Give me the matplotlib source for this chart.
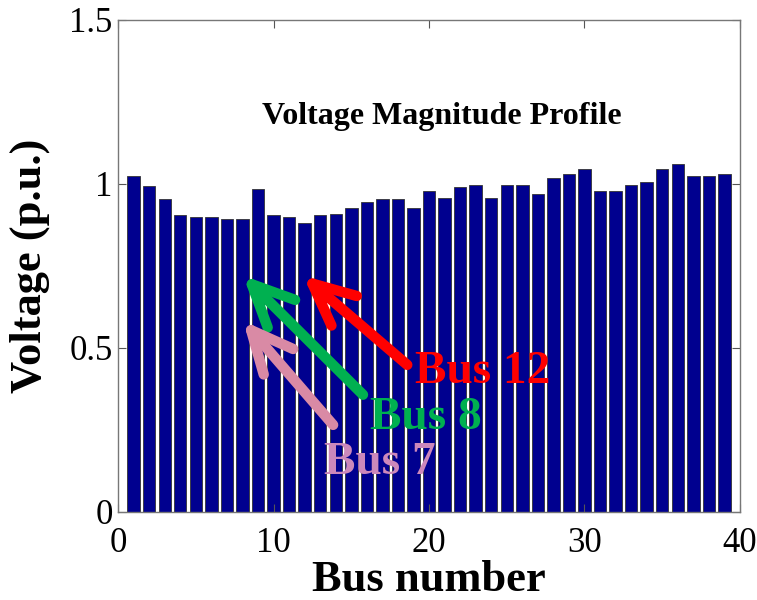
import matplotlib
matplotlib.use('Agg')
import matplotlib.pyplot as plt
import numpy as np

plt.rcParams['font.family'] = ['Liberation Serif', 'DejaVu Serif']

# 母线电压幅值 (p.u.)
bus_numbers = list(range(1, 40))
voltages = [1.023, 0.993, 0.954, 0.904, 0.900, 0.900, 0.894, 0.894, 0.985, 0.904,
            0.900, 0.879, 0.904, 0.907, 0.925, 0.944, 0.954, 0.954, 0.927, 0.979,
            0.956, 0.991, 0.995, 0.956, 0.997, 0.997, 0.970, 1.019, 1.029, 1.044,
            0.979, 0.979, 0.995, 1.007, 1.044, 1.060, 1.023, 1.023, 1.029]

x_ticks = [0, 10, 20, 30, 40]
y_ticks = [0, 0.5, 1, 1.5]
y_tick_labels = ['0', '0.5', '1', '1.5']

# 标注: 文字, 文字位置, 箭头尾, 箭头头, 颜色
labels = ['Bus 12', 'Bus 8', 'Bus 7']
label_xy = [(19.1, 0.427), (16.2, 0.287), (13.25, 0.149)]
arrow_tail = [(18.6, 0.448), (15.75, 0.357), (13.83, 0.265)]
arrow_tip = [(11.9, 0.720), (8.04, 0.720), (8.04, 0.582)]
text_colors = ['#ff0000', '#00b050', '#cc88bb']
arrow_colors = ['#ff0000', '#00b050', '#d98aa5']

fig = plt.figure(figsize=(7.57, 6.0), dpi=100)
ax = fig.add_axes([0.156, 0.147, 0.8215, 0.82])

ax.bar(bus_numbers, voltages, width=0.8, color='#00008f',
       edgecolor='#333333', linewidth=0.6)

ax.set_xlim(0, 40)
ax.set_ylim(0, 1.5)
ax.set_xticks(x_ticks)
ax.set_yticks(y_ticks)
ax.set_yticklabels(y_tick_labels)
ax.tick_params(direction='in', length=6, width=0.8, top=True, right=True,
               labelsize=25, colors='#555555', labelcolor='black', pad=4)
ax.tick_params(axis='x', pad=11)
for s in ax.spines.values():
    s.set_color('#777777')
    s.set_linewidth(1.0)

ax.set_xlabel('Bus number', fontsize=32, fontweight='bold', labelpad=0)
ax.set_ylabel('Voltage (p.u.)', fontsize=32, fontweight='bold', labelpad=14)

ax.text(20.8, 1.204, 'Voltage Magnitude Profile', fontsize=23,
        fontweight='bold', ha='center', va='center')

for i in range(len(labels)):
    ax.annotate('', xy=arrow_tip[i], xytext=arrow_tail[i],
                arrowprops=dict(arrowstyle='->,head_length=1.5,head_width=0.7',
                                lw=7.5, color=arrow_colors[i], mutation_scale=20,
                                capstyle='round', joinstyle='round',
                                shrinkA=0, shrinkB=0))
    ax.text(label_xy[i][0], label_xy[i][1], labels[i], fontsize=34,
            fontweight='bold', color=text_colors[i], ha='left', va='center')

fig.savefig('out.png', dpi=100, facecolor='white')
